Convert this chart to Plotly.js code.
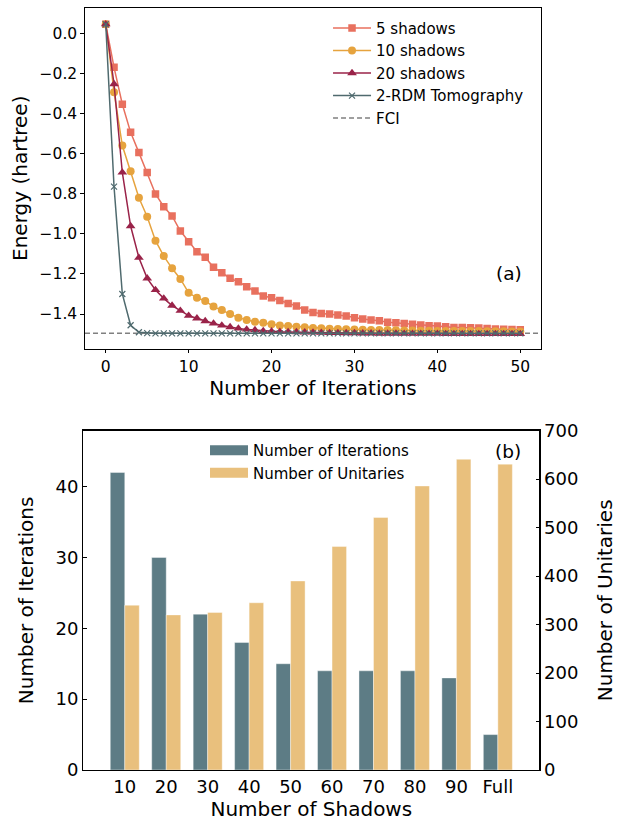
<!DOCTYPE html>
<html><head><meta charset="utf-8">
<script src="https://cdn.plot.ly/plotly-3.0.1.min.js"></script>
<style>html,body{margin:0;padding:0;background:#fff;} #chart{width:623px;height:821px;}</style>
</head><body><div id="chart"></div>
<script>
// ---------- Panel (a): energy vs. iteration ----------
const iterations = [0,1,2,3,4,5,6,7,8,9,10,11,12,13,14,15,16,17,18,19,20,21,22,23,24,25,26,27,28,29,30,31,32,33,34,35,36,37,38,39,40,41,42,43,44,45,46,47,48,49,50];
const shadows5 = [0.045,-0.170,-0.354,-0.494,-0.595,-0.694,-0.801,-0.865,-0.911,-0.986,-1.039,-1.089,-1.117,-1.167,-1.194,-1.222,-1.239,-1.264,-1.285,-1.310,-1.319,-1.333,-1.347,-1.360,-1.380,-1.392,-1.397,-1.400,-1.405,-1.410,-1.418,-1.425,-1.430,-1.433,-1.441,-1.443,-1.447,-1.451,-1.455,-1.458,-1.460,-1.463,-1.467,-1.467,-1.468,-1.470,-1.472,-1.474,-1.476,-1.477,-1.478];
const shadows10 = [0.045,-0.294,-0.560,-0.688,-0.820,-0.915,-1.034,-1.111,-1.172,-1.225,-1.294,-1.319,-1.335,-1.363,-1.380,-1.400,-1.418,-1.430,-1.438,-1.443,-1.451,-1.457,-1.460,-1.463,-1.466,-1.469,-1.471,-1.473,-1.475,-1.476,-1.477,-1.478,-1.479,-1.480,-1.480,-1.481,-1.482,-1.482,-1.483,-1.483,-1.484,-1.484,-1.484,-1.485,-1.485,-1.485,-1.486,-1.486,-1.486,-1.487,-1.487];
const shadows20 = [0.045,-0.253,-0.694,-0.961,-1.119,-1.222,-1.280,-1.322,-1.358,-1.383,-1.408,-1.421,-1.435,-1.447,-1.457,-1.465,-1.472,-1.477,-1.480,-1.484,-1.486,-1.488,-1.489,-1.490,-1.491,-1.492,-1.493,-1.494,-1.494,-1.495,-1.495,-1.496,-1.496,-1.497,-1.497,-1.497,-1.498,-1.498,-1.498,-1.498,-1.498,-1.499,-1.499,-1.499,-1.499,-1.499,-1.499,-1.499,-1.499,-1.499,-1.499];
const tomography = [0.045,-0.765,-1.300,-1.456,-1.491,-1.495,-1.496,-1.496,-1.496,-1.496,-1.496,-1.496,-1.496,-1.496,-1.496,-1.496,-1.496,-1.496,-1.496,-1.496,-1.496,-1.496,-1.496,-1.496,-1.496,-1.496,-1.496,-1.496,-1.496,-1.496,-1.496,-1.496,-1.496,-1.496,-1.496,-1.496,-1.496,-1.496,-1.496,-1.496,-1.496,-1.496,-1.496,-1.496,-1.496,-1.496,-1.496,-1.496,-1.496,-1.496,-1.496];
const fciEnergy = -1.496;

// ---------- Panel (b): iterations / unitaries vs. shadows ----------
const shadowLabels = ["10","20","30","40","50","60","70","80","90","Full"];
const iterCounts = [42,30,22,18,15,14,14,14,13,5];
const unitaryCounts = [340,320,325,345,390,461,521,586,641,631];

const C5 = '#E8705E', C10 = '#E6A33E', C20 = '#9A2349', CT = '#4F6A6E', CF = '#808080';
const CBI = '#5D7C85', CBU = '#E9C07D';
const FONT = 'DejaVu Sans, Liberation Sans, sans-serif';

const traces = [
  {x: iterations, y: shadows5, name: '5 shadows', type: 'scatter', mode: 'lines+markers',
   line: {color: C5, width: 1.5}, marker: {symbol: 'square', size: 7.5, color: C5},
   xaxis: 'x', yaxis: 'y', legend: 'legend'},
  {x: iterations, y: shadows10, name: '10 shadows', type: 'scatter', mode: 'lines+markers',
   line: {color: C10, width: 1.5}, marker: {symbol: 'circle', size: 8, color: C10},
   xaxis: 'x', yaxis: 'y', legend: 'legend'},
  {x: iterations, y: shadows20, name: '20 shadows', type: 'scatter', mode: 'lines+markers',
   line: {color: C20, width: 1.5}, marker: {symbol: 'triangle-up', size: 8.5, color: C20},
   xaxis: 'x', yaxis: 'y', legend: 'legend'},
  {x: iterations, y: tomography, name: '2-RDM Tomography', type: 'scatter', mode: 'lines+markers',
   line: {color: CT, width: 1.5}, marker: {symbol: 'x-thin', size: 6, color: CT, line: {color: CT, width: 1.2}},
   xaxis: 'x', yaxis: 'y', legend: 'legend'},
  {x: [null], y: [null], name: 'FCI', type: 'scatter', mode: 'lines',
   line: {color: CF, width: 1.5, dash: '5px,3px'}, xaxis: 'x', yaxis: 'y', legend: 'legend'},

  {x: shadowLabels, y: iterCounts, name: 'Number of Iterations', type: 'bar',
   width: 0.35, offset: -0.35, marker: {color: CBI, line: {color: 'rgba(255,255,255,0.5)', width: 0.8}},
   xaxis: 'x2', yaxis: 'y2', showlegend: false},
  {x: shadowLabels, y: unitaryCounts, name: 'Number of Unitaries', type: 'bar',
   width: 0.35, offset: 0, marker: {color: CBU, line: {color: 'rgba(255,255,255,0.5)', width: 0.8}},
   xaxis: 'x2', yaxis: 'y3', showlegend: false},
  {x: [null], y: [null], name: 'Number of Iterations', type: 'scatter', mode: 'lines',
   line: {color: CBI, width: 11}, xaxis: 'x2', yaxis: 'y2', legend: 'legend2'},
  {x: [null], y: [null], name: 'Number of Unitaries', type: 'scatter', mode: 'lines',
   line: {color: CBU, width: 11}, xaxis: 'x2', yaxis: 'y2', legend: 'legend2'}
];

const frame = {showline: true, mirror: true, linewidth: 1.2, linecolor: 'black', showgrid: false, zeroline: false};

const layout = {
  width: 623, height: 821,
  margin: {l: 83, r: 82, t: 8, b: 51},
  paper_bgcolor: 'white', plot_bgcolor: 'white',
  font: {family: FONT, color: 'black'},
  barmode: 'overlay',
  xaxis: Object.assign({}, frame, {domain: [0.0044, 1], anchor: 'y', range: [-2.5, 52.5],
    tickvals: [0,10,20,30,40,50], ticks: 'outside', ticklen: 3.5, tickwidth: 1, tickcolor: 'black',
    tickfont: {size: 15.5}, title: {text: 'Number of Iterations', font: {size: 20}, standoff: 4}}),
  yaxis: Object.assign({}, frame, {domain: [0.5531, 1], anchor: 'x', range: [-1.572, 0.126],
    tick0: 0, dtick: 0.2, tickformat: '.1f', ticks: 'outside', ticklen: 3.5, tickwidth: 1, tickcolor: 'black',
    tickfont: {size: 15.5}, title: {text: 'Energy (hartree)', font: {size: 20}, standoff: 6}}),
  xaxis2: Object.assign({}, frame, {domain: [0.0007, 0.9963], anchor: 'y2', type: 'category', range: [-1, 10],
    ticks: '', tickfont: {size: 18}, title: {text: 'Number of Shadows', font: {size: 20}, standoff: 8}}),
  yaxis2: Object.assign({}, frame, {domain: [0, 0.4453], anchor: 'x2', range: [0, 47.9], dtick: 10,
    ticks: 'inside', ticklen: 3.5, tickwidth: 1, tickcolor: 'black', mirror: false,
    tickfont: {size: 18}, title: {text: 'Number of Iterations', font: {size: 20}, standoff: 16}}),
  yaxis3: {overlaying: 'y2', side: 'right', anchor: 'x2', range: [0, 700], dtick: 100,
    showline: true, linewidth: 1.2, linecolor: 'black', showgrid: false, zeroline: false,
    ticks: 'inside', ticklen: 3.5, tickwidth: 1, tickcolor: 'black',
    tickfont: {size: 18}, title: {text: 'Number of Unitaries', font: {size: 20}, standoff: 20}},
  legend: {x: 0.535, y: 0.995, xanchor: 'left', yanchor: 'top', bgcolor: 'rgba(0,0,0,0)',
    font: {size: 15, family: FONT}, itemwidth: 38, tracegroupgap: 0},
  legend2: {x: 0.2664, y: 0.441, xanchor: 'left', yanchor: 'top', bgcolor: 'rgba(0,0,0,0)',
    font: {size: 15, family: FONT}, itemwidth: 38, tracegroupgap: 0},
  shapes: [{type: 'line', xref: 'x domain', x0: 0, x1: 1, yref: 'y', y0: fciEnergy, y1: fciEnergy,
    line: {color: CF, width: 1.5, dash: '5px,3px'}, layer: 'below'}],
  annotations: [
    {text: '(a)', xref: 'paper', yref: 'paper', x: 0.930, y: 0.651, showarrow: false, font: {size: 18.5}, xanchor: 'center', yanchor: 'middle'},
    {text: '(b)', xref: 'paper', yref: 'paper', x: 0.928, y: 0.4186, showarrow: false, font: {size: 18.5}, xanchor: 'center', yanchor: 'middle'}
  ]
};

Plotly.newPlot('chart', traces, layout, {displayModeBar: false, staticPlot: true});
</script>
</body></html>
